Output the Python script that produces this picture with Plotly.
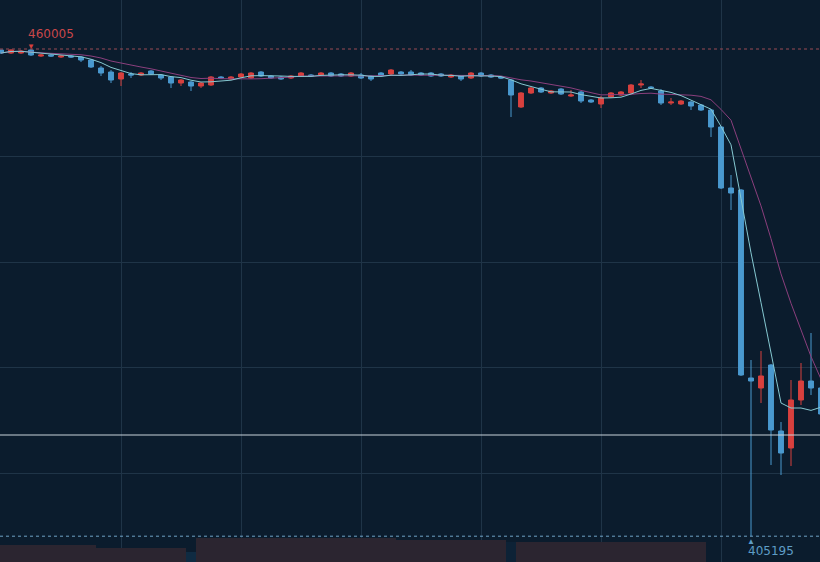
import plotly.graph_objects as go
import pandas as pd

idx = list(range(83))
open_ = [459893,459555,459555,459893,459218,459330,459105,459218,459105,458768,
 457868,457418,456630,457193,457080,457530,457080,456855,456180,456293,
 455843,455955,456855,456630,456855,456743,457418,456968,456855,456743,
 456968,457080,457080,457305,457193,456968,457080,456968,457305,457193,
 457418,457418,457305,457305,457193,456855,456968,456743,457305,457080,
 456855,456518,453480,455055,455618,455055,455505,454718,455168,454268,
 453818,454605,454830,455055,455955,455730,455280,453930,453818,454043,
 453705,453143,451230,444368,444143,422993,421868,424455,417030,415118,
 420518,422655,421868]
high = [459893,459960,459893,460005,459443,459443,459330,459330,459218,458880,
 458093,457643,457418,457418,457418,457643,457193,456968,456630,456405,
 456293,456968,456968,456968,457305,457418,457530,457080,456968,457080,
 457418,457193,457418,457418,457305,457418,457305,457080,457418,457755,
 457530,457643,457418,457418,457305,457193,457080,457418,457418,457193,
 456968,456630,455168,455730,455730,455393,455618,455393,455280,454380,
 454718,455168,455280,456068,456518,455843,455505,454493,454268,454155,
 453818,453255,451343,445830,444255,425018,426030,424568,418043,422768,
 424680,428055,422093]
low = [459443,459443,459443,459218,459105,459105,458993,458993,458543,457868,
 456968,456180,455843,456743,456968,457080,456518,455618,455843,455280,
 455618,455843,456630,456518,456743,456630,456855,456630,456518,456630,
 456855,456855,456968,456855,456855,456855,456630,456405,456855,457080,
 457080,456968,456968,456855,456855,456743,456405,456630,456855,456743,
 456630,452355,453368,454943,455055,454943,454830,454605,453930,453930,
 453368,454493,454718,454943,455618,455505,453705,453705,453705,453143,
 453030,450105,444255,441893,423218,405195,420180,413205,412080,413093,
 419955,421080,418268]
close = [459555,459900,459780,459330,459330,459218,459218,459105,458768,457980,
 457305,456518,457305,457080,457305,457193,456743,456180,456518,455843,
 456180,456855,456743,456855,457193,457305,456968,456743,456630,456968,
 457305,456968,457305,456968,456968,457305,456743,456630,456968,457643,
 457193,457080,457080,456968,456968,457080,456630,457305,456968,456855,
 456743,454830,455055,455618,455168,455280,454943,454830,454155,454043,
 454493,455055,455168,455955,456068,455618,453930,454043,454155,453593,
 453143,451230,444368,443805,423330,422655,423218,417143,414555,420518,
 422655,421868,418943]
volume = [17]*10 + [14]*9 + [10] + [24]*20 + [22]*11 + [20] + [20]*19 + [0]*12
vol_colors = ["#2b2530"]*83
vol_colors[19] = "#0f2b42"
vol_colors[51] = "#0d2236"

max_price = 460005
min_price = 405195
ref_line = 416580

s = pd.Series(close)
ma_short = s.rolling(5, min_periods=1).mean()
ma_long = s.rolling(10, min_periods=1).mean()

fig = go.Figure()
fig.add_trace(go.Bar(x=idx, y=volume, yaxis="y2", width=1.0,
                     marker=dict(color=vol_colors, line=dict(width=0)), hoverinfo="skip"))
fig.add_trace(go.Scatter(x=idx, y=ma_long, mode="lines", line=dict(color="#8b3f7d", width=1), hoverinfo="skip"))
fig.add_trace(go.Scatter(x=idx, y=ma_short, mode="lines", line=dict(color="#86c9d2", width=1), hoverinfo="skip"))
fig.add_trace(go.Candlestick(x=idx, open=open_, high=high, low=low, close=close,
    increasing=dict(line=dict(color="#d8403e", width=1), fillcolor="#d8403e"),
    decreasing=dict(line=dict(color="#4a99cf", width=1), fillcolor="#4a99cf"),
    whiskerwidth=0, hoverinfo="skip"))

fig.add_hline(y=max_price, line=dict(color="#9a4a55", width=1, dash="dot"))
fig.add_hline(y=min_price, line=dict(color="#6fa3c4", width=1, dash="dot"))
fig.add_hline(y=ref_line, line=dict(color="#c9d2da", width=1))

fig.add_annotation(x=2.7, y=max_price, text="460005", showarrow=False, xanchor="left",
                   yshift=15, xshift=-2, font=dict(color="#c9474a", size=12, family="DejaVu Sans"))
fig.add_annotation(x=3, y=max_price, text="▼", showarrow=False, yshift=4,
                   font=dict(color="#d8403e", size=8))
fig.add_annotation(x=74.7, y=min_price, text="405195", showarrow=False, xanchor="left",
                   yshift=-15, xshift=-2, font=dict(color="#5e9cc6", size=12, family="DejaVu Sans"))
fig.add_annotation(x=75, y=min_price, text="▲", showarrow=False, yshift=-4,
                   font=dict(color="#5e9cc6", size=8))

fig.update_layout(
    width=820, height=562, margin=dict(l=0, r=0, t=0, b=0),
    paper_bgcolor="#0b1c2d", plot_bgcolor="#0b1c2d", showlegend=False,
    xaxis=dict(range=[-0.1, 81.9], tickvals=[12, 24, 36, 48, 60, 72], showticklabels=False,
               showgrid=True, gridcolor="#1f3447", zeroline=False, rangeslider=dict(visible=False)),
    yaxis=dict(range=[402292, 465518], tickvals=[447968, 436043, 424118, 412193],
               showticklabels=False, showgrid=True, gridcolor="#1f3447", zeroline=False),
    yaxis2=dict(range=[0, 562], overlaying="y", visible=False),
)
fig.write_html("out.html", config={"displayModeBar": False},
               post_script="document.body.style.margin='0';document.body.style.background='#0b1c2d';")
